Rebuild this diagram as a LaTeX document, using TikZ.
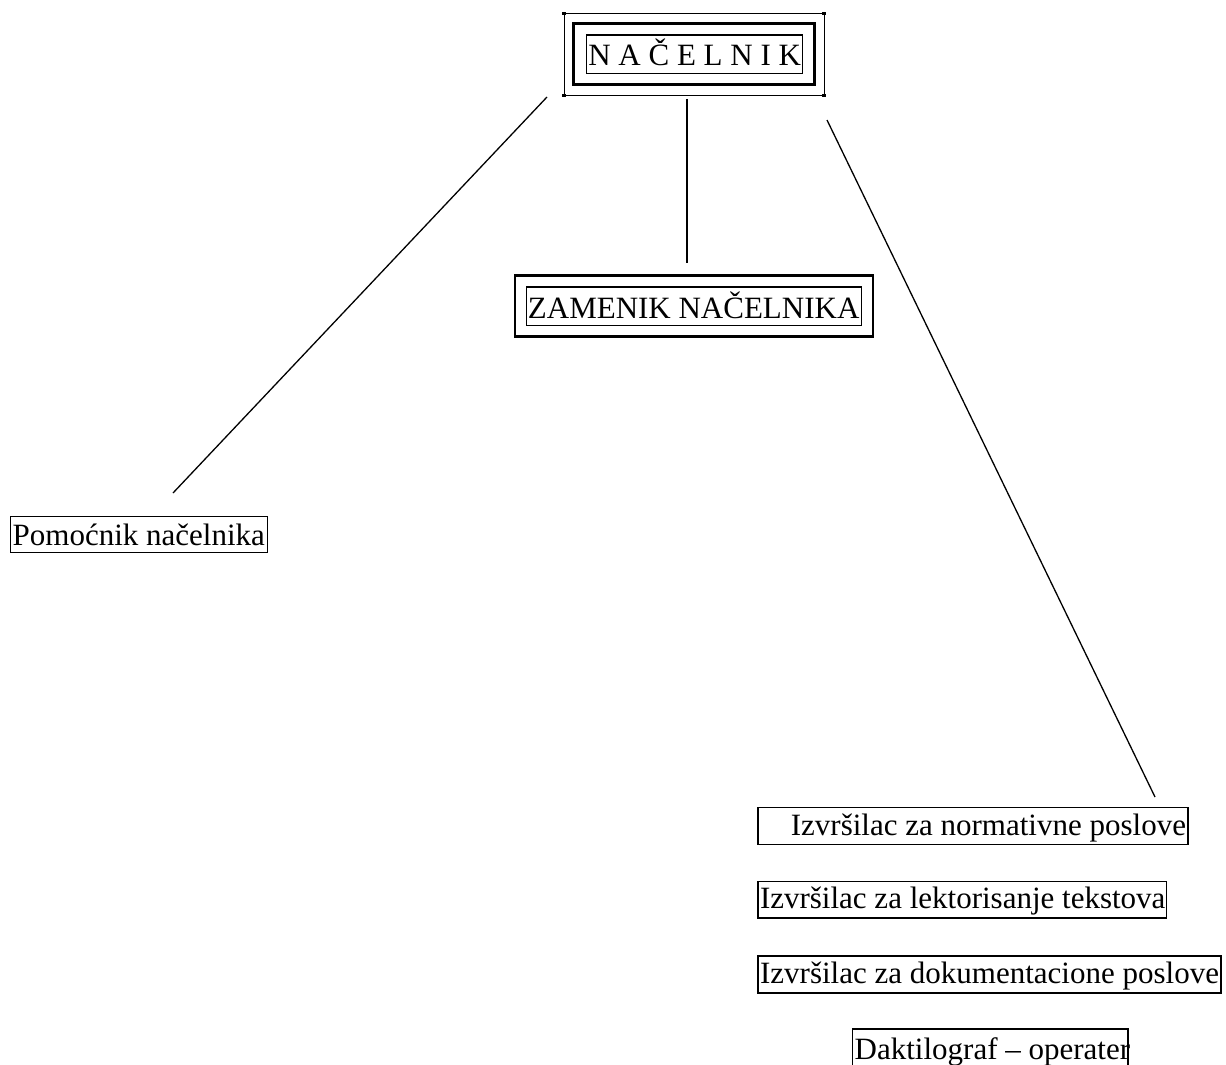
\documentclass[tikz,border=0pt]{standalone}
\usepackage{fontspec}
\setmainfont{Liberation Serif}
\usetikzlibrary{calc}
\newcommand\tfont{\fontsize{15.5}{18}\selectfont}
\newcommand\tx[1]{\mbox{\spaceskip=0pt\xspaceskip=0pt #1}}
\begin{document}
\begin{tikzpicture}[x=0.5pt,y=-0.5pt,
  box/.style={draw, line width=0.7pt, inner xsep=1pt, inner ysep=0pt, anchor=north west, align=left, font=\tfont},
  conn/.style={line width=0.65pt},
  dot/.style={fill=black}]
\useasboundingbox (0,0) rectangle (1226,1065);
\clip (0,0) rectangle (1226,1065);

% NACELNIK
\node[box, line width=0.65pt, text height=15.35pt, text depth=3.85pt, text width=106pt] (nac) at (585.7,34.3) {\tx{N A Č E L N I K}};
\draw[line width=1.5pt] ($(nac.north west)+(-12,-10.6)$) rectangle ($(nac.south east)+(11,11)$);
\coordinate (o1) at ($(nac.north west)+(-21.7,-21)$);
\coordinate (o2) at ($(nac.south east)+(21,21.3)$);
\coordinate (o3) at (o1 |- o2);
\coordinate (o4) at (o2 |- o1);
\draw[line width=0.5pt] (o1) rectangle (o2);
\foreach \c in {o1,o2,o3,o4}
  \fill[dot] ([shift={(-1.6,-1.6)}]\c) rectangle ([shift={(1.6,1.6)}]\c);

% ZAMENIK
\node[box, line width=0.65pt, text height=16pt, text depth=3.2pt, text width=166pt, inner xsep=0.8pt] (zam) at (525.7,286.3) {\tx{ZAMENIK NAČELNIKA}};
\draw[line width=1.4pt] ($(zam.north west)+(-10.7,-10.8)$) rectangle ($(zam.south east)+(10.7,10.8)$);

% Pomocnik
\node[box, text height=14.5pt, text depth=3.5pt, text width=126.35pt] (pom) at (10,516) {\tx{Pomoćnik načelnika}};

% Right column
\node[box, align=right, text height=14.15pt, text depth=4.5pt, text width=213pt] (b1) at (757.3,806.7) {\tx{Izvršilac za normativne poslove}};
\node[box, text height=13.3pt, text depth=5pt, text width=202.2pt] (b2) at (757.3,880.7) {\tx{Izvršilac za lektorisanje tekstova}};
\node[box, line width=0.85pt, text height=13.85pt, text depth=4.65pt, text width=229.5pt] (b3) at (757.3,955) {\tx{Izvršilac za dokumentacione poslove}};
\node[box, text height=15pt, text depth=4.5pt, text width=135.65pt] (b4) at (852,1028.3) {\tx{Daktilograf – operater}};

% connectors
\coordinate (nacL) at (547,97);
\coordinate (nacC) at (687,99);
\coordinate (nacR) at (827,120);
\coordinate (pomT) at (173,493);
\coordinate (zamT) at (687,263);
\coordinate (b1T) at (1155,797);
\draw[conn] (nacL) -- (pomT);
\draw[conn] (nacC) -- (zamT);
\draw[conn] (nacR) -- (b1T);
\end{tikzpicture}
\end{document}
